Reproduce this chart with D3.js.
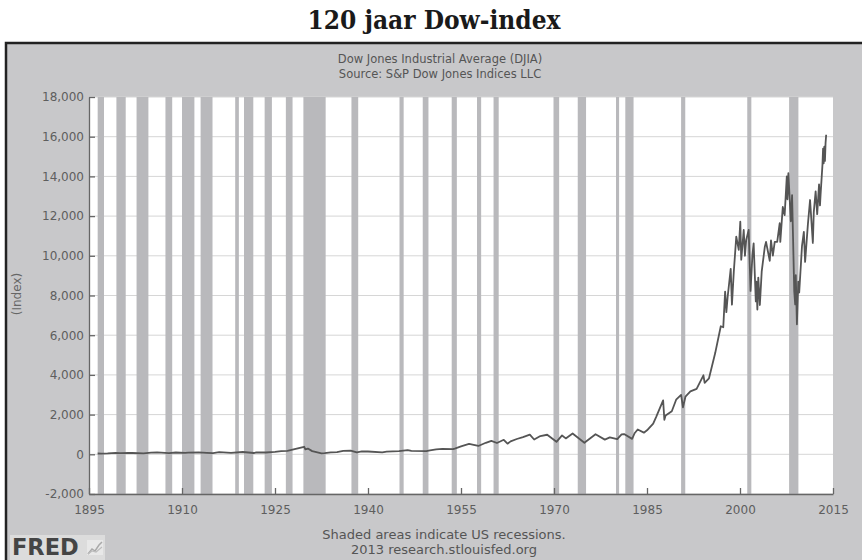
<!DOCTYPE html>
<html>
<head>
<meta charset="utf-8">
<script src="https://cdn.jsdelivr.net/npm/d3@7/dist/d3.min.js"></script>
<style>
  body { margin: 0; background: #fff; }
  svg { display: block; }
</style>
</head>
<body>
<div id="chart"></div>
<script>
// DJIA, decimal year and index value
const djiaDates = [
  1896.4, 1897, 1898, 1899.3, 1900, 1901.4, 1902, 1903.8, 1905, 1906, 1907.9, 1909, 1910.5, 1911,
  1912.7, 1914, 1915, 1916, 1917.9, 1919.8, 1921.6, 1922, 1923.5, 1925, 1926, 1927, 1928, 1929.7,
  1929.9, 1930.3, 1931, 1932.5, 1933, 1934, 1935, 1936, 1937.2, 1938.2, 1939, 1940, 1942.3, 1943,
  1945, 1946.4, 1947, 1949.4, 1950, 1951, 1952, 1953.7, 1954, 1955, 1956.3, 1957.8, 1959, 1959.9,
  1960.8, 1961.9, 1962.5, 1963, 1964, 1965, 1966.1, 1966.8, 1967.8, 1968.9, 1970.4, 1971.3, 1971.9,
  1973.0, 1974.9, 1976.7, 1978.2, 1979, 1980.2, 1980.9, 1981.3, 1982.6, 1983, 1983.5, 1984.5, 1985,
  1986, 1986.5, 1987.6, 1987.8, 1988, 1989, 1989.7, 1990.5, 1990.8, 1991.2, 1992, 1993, 1994.1,
  1994.3, 1995, 1996, 1996.9, 1997.3, 1997.6, 1997.8, 1998, 1998.5, 1998.7, 1999, 1999.4, 1999.8,
  2000.05, 2000.2, 2000.6, 2000.8, 2001.0, 2001.4, 2001.7, 2002.0, 2002.2, 2002.55, 2002.65, 2002.8,
  2002.95, 2003.2, 2003.5, 2004.0, 2004.2, 2004.8, 2005.0, 2005.3, 2005.6, 2006.0, 2006.4, 2006.5,
  2006.9, 2007.2, 2007.55, 2007.65, 2007.8, 2008.2, 2008.4, 2008.55, 2008.75, 2008.9, 2009.0,
  2009.18, 2009.4, 2009.55, 2010.0, 2010.3, 2010.5, 2010.95, 2011.3, 2011.75, 2011.9, 2012.2,
  2012.45, 2012.75, 2012.9, 2013.0, 2013.3, 2013.4, 2013.5, 2013.6, 2013.7, 2013.8, 2013.9
];
const djiaValues = [
  40, 38, 50, 75, 60, 75, 65, 45, 80, 100, 55, 90, 75, 85,
  94, 75, 60, 105, 67, 115, 65, 100, 90, 120, 155, 170, 250, 380,
  250, 290, 160, 45, 60, 100, 110, 170, 190, 100, 150, 140, 95, 130,
  155, 210, 175, 165, 200, 245, 270, 260, 290, 400, 520, 420, 580, 680,
  570, 730, 535, 650, 770, 870, 995, 745, 920, 985, 630, 950, 800,
  1050, 580, 1010, 740, 850, 760, 1000, 1020, 777, 1060, 1250, 1090, 1210,
  1550, 1900, 2720, 1740, 1950, 2170, 2750, 2990, 2370, 2900, 3170, 3300, 3980,
  3600, 3830, 5100, 6450, 6400, 8200, 7160, 7900, 9340, 7540, 9200, 10970, 10300,
  11720, 9800, 11300, 10000, 10800, 11300, 8230, 10020, 10630, 7700, 8700, 7290,
  8900, 7520, 9200, 10450, 10700, 9750, 10780, 10010, 10700, 10700, 11640, 10700,
  12460, 12050, 14000, 12850, 14160, 11740, 13060, 11000, 8200, 7550, 9030,
  6550, 8700, 8150, 10500, 11200, 9690, 11580, 12810, 10650, 12200, 13250,
  12100, 13600, 12540, 13100, 14580, 15400, 14660, 15500, 14780, 15680, 16100
];

// US recessions (NBER), decimal years
const recessionStart = [1896.4, 1899.42, 1902.67, 1907.33, 1910.0, 1913.0, 1918.58, 1920.0, 1923.33,
  1926.75, 1929.58, 1937.33, 1945.08, 1948.83, 1953.5, 1957.58, 1960.25, 1969.92, 1973.83,
  1980.0, 1981.5, 1990.5, 2001.17, 2007.92];
const recessionEnd = [1897.42, 1900.92, 1904.58, 1908.42, 1912.0, 1914.92, 1919.17, 1921.5, 1924.5,
  1927.83, 1933.17, 1938.42, 1945.75, 1949.75, 1954.33, 1958.25, 1961.08, 1970.83, 1975.17,
  1980.5, 1982.83, 1991.17, 2001.83, 2009.42];

const xTicks = [1895, 1910, 1925, 1940, 1955, 1970, 1985, 2000, 2015];
const yTicks = [-2000, 0, 2000, 4000, 6000, 8000, 10000, 12000, 14000, 16000, 18000];

const width = 862;
const height = 560;
const plot = { left: 89, right: 833, top: 97, bottom: 494 };

const svg = d3.select("#chart")
  .append("svg")
  .attr("width", width)
  .attr("height", height);

// Page title
svg.append("text")
  .attr("x", 434)
  .attr("y", 29)
  .attr("text-anchor", "middle")
  .attr("font-family", "DejaVu Serif Condensed, DejaVu Serif, serif")
  .attr("font-weight", "bold")
  .attr("font-size", 26)
  .attr("fill", "#1a1a1a")
  .text("120 jaar Dow-index");

// FRED panel
svg.append("rect")
  .attr("x", 6)
  .attr("y", 43)
  .attr("width", 900)
  .attr("height", 560)
  .attr("fill", "#c8c8ca")
  .attr("stroke", "#222")
  .attr("stroke-width", 2.5);

const x = d3.scaleLinear()
  .domain([1895, 2015])
  .range([plot.left, plot.right]);

const y = d3.scaleLinear()
  .domain([-2000, 18000])
  .range([plot.bottom, plot.top]);

// Plot background
svg.append("rect")
  .attr("x", plot.left)
  .attr("y", plot.top)
  .attr("width", plot.right - plot.left)
  .attr("height", plot.bottom - plot.top)
  .attr("fill", "#fff");

// Horizontal grid
svg.append("g")
  .selectAll("line")
  .data(yTicks)
  .join("line")
  .attr("x1", plot.left)
  .attr("x2", plot.right)
  .attr("y1", d => y(d))
  .attr("y2", d => y(d))
  .attr("stroke", "#d6d6d6")
  .attr("stroke-width", 1);

// Recession bars
svg.append("g")
  .selectAll("rect")
  .data(recessionStart)
  .join("rect")
  .attr("x", d => x(d))
  .attr("y", plot.top)
  .attr("width", (d, i) => x(recessionEnd[i]) - x(d))
  .attr("height", plot.bottom - plot.top)
  .attr("fill", "#b9b9bc");

// DJIA line
const line = d3.line()
  .x(d => x(d[0]))
  .y(d => y(d[1]));

svg.append("path")
  .datum(d3.zip(djiaDates, djiaValues))
  .attr("fill", "none")
  .attr("stroke", "#555")
  .attr("stroke-width", 1.8)
  .attr("stroke-linejoin", "round")
  .attr("d", line);

// Axes
const comma = d3.format(",");

const yAxis = d3.axisLeft(y)
  .tickValues(yTicks)
  .tickFormat(d => comma(d).replace("\u2212", "-"))
  .tickSizeInner(-6)
  .tickSizeOuter(0)
  .tickPadding(5);

const xAxis = d3.axisBottom(x)
  .tickValues(xTicks)
  .tickFormat(d3.format("d"))
  .tickSizeInner(-6)
  .tickSizeOuter(0)
  .tickPadding(11);

const gy = svg.append("g")
  .attr("transform", `translate(${plot.left},0)`)
  .call(yAxis);

const gx = svg.append("g")
  .attr("transform", `translate(0,${plot.bottom})`)
  .call(xAxis);

[gx, gy].forEach(g => {
  g.selectAll("path, line").attr("stroke", "#666").attr("stroke-width", 1.3);
  g.selectAll("text")
    .attr("fill", "#5e5e5e")
    .attr("font-family", "DejaVu Sans, sans-serif")
    .attr("font-size", 12);
});

// Axis label
svg.append("text")
  .attr("transform", "translate(21,294) rotate(-90)")
  .attr("text-anchor", "middle")
  .attr("font-family", "DejaVu Sans, sans-serif")
  .attr("font-size", 12)
  .attr("fill", "#666")
  .text("(Index)");

// Panel titles
const titles = ["Dow Jones Industrial Average (DJIA)", "Source: S&P Dow Jones Indices LLC"];
svg.append("g")
  .selectAll("text")
  .data(titles)
  .join("text")
  .attr("x", 440)
  .attr("y", (d, i) => 63 + i * 15)
  .attr("text-anchor", "middle")
  .attr("font-family", "DejaVu Sans, sans-serif")
  .attr("font-size", 11.5)
  .attr("fill", "#555")
  .text(d => d);

// Footer
const footer = ["Shaded areas indicate US recessions.", "2013 research.stlouisfed.org"];
svg.append("g")
  .selectAll("text")
  .data(footer)
  .join("text")
  .attr("x", 444)
  .attr("y", (d, i) => 539 + i * 15)
  .attr("text-anchor", "middle")
  .attr("font-family", "DejaVu Sans, sans-serif")
  .attr("font-size", 13)
  .attr("fill", "#555")
  .text(d => d);

// FRED logo
svg.append("rect")
  .attr("x", 10)
  .attr("y", 535)
  .attr("width", 95)
  .attr("height", 26)
  .attr("fill", "#dcdcdc");

svg.append("text")
  .attr("x", 12)
  .attr("y", 555)
  .attr("font-family", "DejaVu Sans, sans-serif")
  .attr("font-weight", "bold")
  .attr("font-size", 22.5)
  .attr("fill", "#454545")
  .text("FRED");

const icon = svg.append("g").attr("transform", "translate(87,540)");
icon.append("rect")
  .attr("width", 16).attr("height", 15)
  .attr("fill", "#e8e8e8");
icon.append("path")
  .attr("d", "M1,14 L5,9 L8,11 L12,5 L15,2")
  .attr("fill", "none")
  .attr("stroke", "#a9a9a9")
  .attr("stroke-width", 1.5);
icon.append("path")
  .attr("d", "M1,14 L5,11 L9,12 L15,7")
  .attr("fill", "none")
  .attr("stroke", "#bdbdbd")
  .attr("stroke-width", 1.2);
</script>
</body>
</html>
